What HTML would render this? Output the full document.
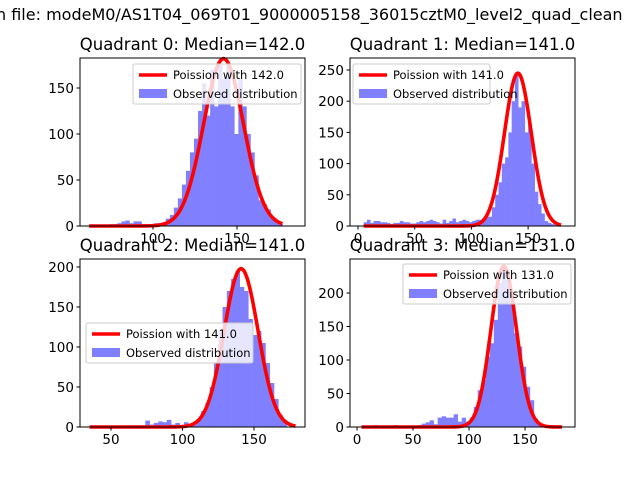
<!DOCTYPE html>
<html><head><meta charset="utf-8"><style>
body{margin:0;background:#fff;}
svg{display:block;font-family:"DejaVu Sans","Liberation Sans",sans-serif;}
</style></head><body>
<svg id="fig" width="640" height="480" viewBox="0 0 640 480">
<text x="-4" y="20" font-size="16" fill="#000">n file: modeM0/AS1T04_069T01_9000005158_36015cztM0_level2_quad_clean</text>
</svg>
<script>
// ---- data ----
const q0Start = 62, q0Width = 2.4;
const q0Counts = [1,1,0,1,1,2,2,3,5,6,3,5,5,2,2,2,3,3,4,8,12,20,30,45,60,80,95,125,155,120,170,130,175,160,175,130,100,160,130,100,80,55,28,24,18,10,4,2];
const q1Start = 5, q1Width = 2.9;
const q1Counts = [6,10,5,8,8,6,6,5,3,5,5,8,6,6,4,4,6,8,6,8,10,8,6,4,10,5,8,12,6,8,10,8,6,8,10,10,12,15,15,30,50,70,100,110,150,200,245,190,200,150,165,100,55,35,20,8,5,3,1,0];
const q2Start = 35, q2Width = 3;
const q2Counts = [0,0,0,0,0,0,0,0,0,0,0,2,0,8,3,5,7,6,9,3,5,2,6,4,3,10,20,30,50,80,120,150,170,185,195,175,170,135,115,120,105,80,55,35,15,8,0,0];
const q3Start = 4, q3Width = 3.58;
const q3Counts = [0,0,0,3,0,0,0,0,3,0,0,0,0,0,3,5,7,10,4,14,16,14,14,19,8,14,8,14,30,55,70,105,125,160,215,240,220,185,140,120,90,60,40,12,5,3,1,0,0,0];
const q0Medians = 142.0, q1Median = 141.0, q2Median = 141.0, q3Median = 131.0;
const q0Peak = 182, q1Peak = 245, q2Peak = 198, q3Peak = 240;
const q0XTicks = [100,150], q0YTicks = [0,50,100,150];
const q1XTicks = [0,50,100,150], q1YTicks = [0,50,100,150,200,250];
const q2XTicks = [50,100,150], q2YTicks = [0,50,100,150,200];
const q3XTicks = [0,50,100,150], q3YTicks = [0,50,100,150,200];

const NS = "http://www.w3.org/2000/svg";
const svg = document.getElementById('fig');
function mk(tag, attrs, parent){const e=document.createElementNS(NS,tag);for(const k in attrs)e.setAttribute(k,attrs[k]);(parent||svg).appendChild(e);return e;}

function panel(cfg){
  const g = mk('g',{});
  
  
  const sx = v => cfg.x0 + (v - cfg.xa) * cfg.xs;
  const sy = v => cfg.yb - v * cfg.ys;
  cfg.counts.forEach((c,i)=>{
    if(c<=0) return;
    const a = cfg.start + i*cfg.width;
    const r = mk('rect',{x:sx(a),y:sy(c),width:cfg.width*cfg.xs+0.3,height:c*cfg.ys,fill:'#8080ff'},g);
    
    
  });
  const lam = cfg.median, end = cfg.start + cfg.counts.length*cfg.width;
  let d='';
  for(let x=cfg.start;x<=end+0.01;x+=1){
    const v = cfg.peak*Math.exp(-(x-lam)*(x-lam)/(2*lam));
    d += (d?'L':'M')+sx(x).toFixed(2)+','+sy(v).toFixed(2);
  }
  const p = mk('path',{d:d,fill:'none',stroke:'#ff0000','stroke-width':3.6,'stroke-linejoin':'round'},g);
  
  
  const f = mk('rect',{x:cfg.bx,y:cfg.by,width:cfg.bw,height:cfg.bh,fill:'none',stroke:'#000','stroke-width':1},g);
  
  
  cfg.xticks.forEach(t=>{
    const X=sx(t);
    mk('line',{x1:X,x2:X,y1:cfg.by+cfg.bh,y2:cfg.by+cfg.bh+3.5,stroke:'#000'},g);
    const tx = mk('text',{x:X,y:cfg.by+cfg.bh+17,'font-size':13.5,'text-anchor':'middle'},g);
    tx.textContent=t;
    
    
  });
  cfg.yticks.forEach(t=>{
    const Y=sy(t);
    mk('line',{x1:cfg.bx-3.5,x2:cfg.bx,y1:Y,y2:Y,stroke:'#000'},g);
    const tx = mk('text',{x:cfg.bx-6,y:Y+5,'font-size':13.5,'text-anchor':'end'},g);
    tx.textContent=t;
    
    
  });
  const ti = mk('text',{x:cfg.bx+cfg.bw/2,y:cfg.by-8,'font-size':16.5,'text-anchor':'middle'},g);
  ti.textContent = 'Quadrant '+cfg.id+': Median='+lam.toFixed(1);
  
  
  const L = mk('g',{},g);
  
  
  mk('rect',{x:cfg.lx,y:cfg.ly,width:cfg.lw,height:40,rx:2,fill:'#fff','fill-opacity':0.8,stroke:'#cccccc'},L);
  mk('line',{x1:cfg.lx+6,x2:cfg.lx+34,y1:cfg.ly+11,y2:cfg.ly+11,stroke:'#ff0000','stroke-width':3.6},L);
  const t1 = mk('text',{x:cfg.lx+40,y:cfg.ly+15,'font-size':11.5},L);
  t1.textContent='Poission with '+lam.toFixed(1);
  
  
  mk('rect',{x:cfg.lx+6,y:cfg.ly+25,width:28,height:9,fill:'#8080ff'},L);
  const t2 = mk('text',{x:cfg.lx+40,y:cfg.ly+34,'font-size':11.5},L);
  t2.textContent='Observed distribution';
  
  
}

panel({id:0,counts:q0Counts,start:q0Start,width:q0Width,median:q0Medians,peak:q0Peak,xticks:q0XTicks,yticks:q0YTicks,
  bx:80,by:58,bw:225,bh:168,x0:153,xa:100,xs:1.68,yb:226,ys:0.92,lx:133,ly:64,lw:168});
panel({id:1,counts:q1Counts,start:q1Start,width:q1Width,median:q1Median,peak:q1Peak,xticks:q1XTicks,yticks:q1YTicks,
  bx:350,by:58,bw:225,bh:168,x0:358,xa:0,xs:1.134,yb:226,ys:0.624,lx:353,ly:64,lw:137});
panel({id:2,counts:q2Counts,start:q2Start,width:q2Width,median:q2Median,peak:q2Peak,xticks:q2XTicks,yticks:q2YTicks,
  bx:80,by:259,bw:225,bh:168,x0:111,xa:50,xs:1.43,yb:427,ys:0.8,lx:86,ly:323,lw:167});
panel({id:3,counts:q3Counts,start:q3Start,width:q3Width,median:q3Median,peak:q3Peak,xticks:q3XTicks,yticks:q3YTicks,
  bx:350,by:259,bw:225,bh:168,x0:357,xa:0,xs:1.12,yb:427,ys:0.67,lx:403,ly:264,lw:168});
</script>
</body></html>
